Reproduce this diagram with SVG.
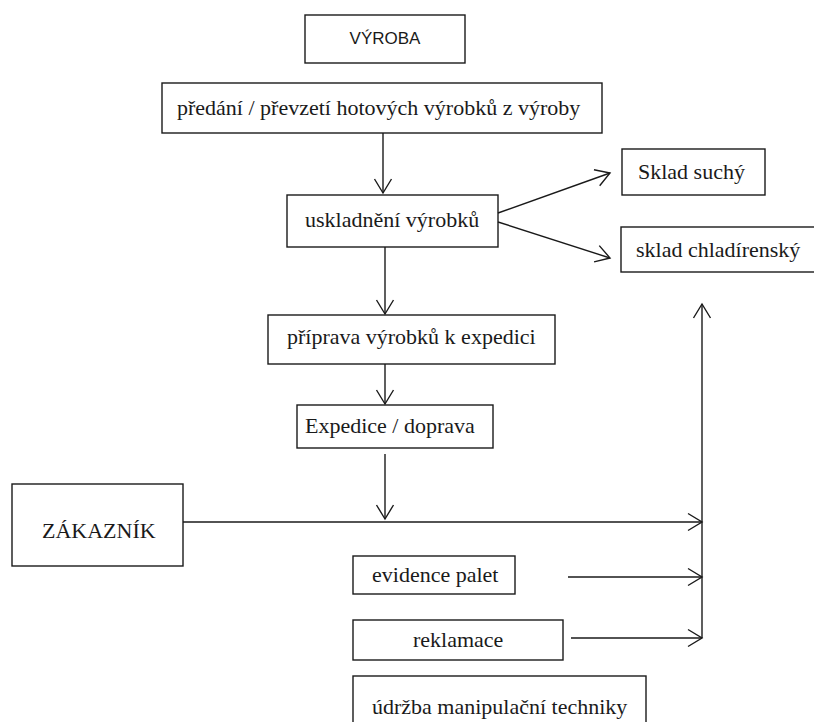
<svg xmlns="http://www.w3.org/2000/svg" width="814" height="722" viewBox="0 0 814 722">
  <style>
    .box { fill: #ffffff; stroke: #1a1a1a; stroke-width: 1.4; }
    .lbl { font-family: "Liberation Serif", "Times New Roman", serif; font-size: 22px; fill: #1a1a1a; }
    .sans { font-family: "Liberation Sans", Arial, sans-serif; font-size: 17px; fill: #1a1a1a; }
    .edge { fill: none; stroke: #1a1a1a; stroke-width: 1.4; }
  </style>
  <defs>
    <marker id="arrow" markerUnits="userSpaceOnUse" markerWidth="20" markerHeight="20" refX="0" refY="0" viewBox="-16 -10 18 20" orient="auto">
      <path d="M -14 -8.5 L 0 0 L -14 8.5" fill="none" stroke="#1a1a1a" stroke-width="1.4"/>
    </marker>
  </defs>
  <rect width="814" height="722" fill="#ffffff"/>

  <g id="vyroba">
    <rect class="box" x="305" y="15" width="160" height="48"/>
    <text class="sans" x="385" y="44" text-anchor="middle">VÝROBA</text>
  </g>
  <g id="predani">
    <rect class="box" x="162" y="83" width="440" height="50"/>
    <text class="lbl" x="177" y="115">předání / převzetí hotových výrobků z výroby</text>
  </g>
  <g id="uskladneni">
    <rect class="box" x="287" y="195" width="211" height="52"/>
    <text class="lbl" x="305" y="227">uskladnění výrobků</text>
  </g>
  <g id="sklad-suchy">
    <rect class="box" x="622" y="149" width="143" height="46"/>
    <text class="lbl" x="638" y="179">Sklad suchý</text>
  </g>
  <g id="sklad-chladirensky">
    <rect class="box" x="621" y="227" width="200" height="45"/>
    <text class="lbl" x="636" y="257">sklad chladírenský</text>
  </g>
  <g id="priprava">
    <rect class="box" x="268" y="315" width="287" height="49"/>
    <text class="lbl" x="287" y="344">příprava výrobků k expedici</text>
  </g>
  <g id="expedice">
    <rect class="box" x="297" y="405" width="196" height="43"/>
    <text class="lbl" x="305" y="433">Expedice / doprava</text>
  </g>
  <g id="zakaznik">
    <rect class="box" x="12" y="484" width="171" height="82"/>
    <text class="lbl" x="42" y="538">ZÁKAZNÍK</text>
  </g>
  <g id="evidence-palet">
    <rect class="box" x="353" y="556" width="162" height="38"/>
    <text class="lbl" x="372" y="582">evidence palet</text>
  </g>
  <g id="reklamace">
    <rect class="box" x="353" y="620" width="210" height="40"/>
    <text class="lbl" x="413" y="647">reklamace</text>
  </g>
  <g id="udrzba">
    <rect class="box" x="353" y="676" width="293" height="60"/>
    <text class="lbl" x="372" y="714">údržba manipulační techniky</text>
  </g>

  <g id="connectors">
    <line class="edge" x1="383" y1="133" x2="383" y2="193" marker-end="url(#arrow)"/>
    <line class="edge" x1="498" y1="213" x2="610" y2="173" marker-end="url(#arrow)"/>
    <line class="edge" x1="498" y1="222" x2="610" y2="258" marker-end="url(#arrow)"/>
    <line class="edge" x1="385" y1="247" x2="385" y2="314" marker-end="url(#arrow)"/>
    <line class="edge" x1="385" y1="364" x2="385" y2="404" marker-end="url(#arrow)"/>
    <line class="edge" x1="385" y1="454" x2="385" y2="519" marker-end="url(#arrow)"/>
    <line class="edge" x1="183" y1="522" x2="702" y2="522" marker-end="url(#arrow)"/>
    <line class="edge" x1="568" y1="577" x2="702" y2="577" marker-end="url(#arrow)"/>
    <line class="edge" x1="571" y1="638" x2="702" y2="638" marker-end="url(#arrow)"/>
    <line class="edge" x1="702" y1="638" x2="702" y2="304" marker-end="url(#arrow)"/>
  </g>
</svg>
